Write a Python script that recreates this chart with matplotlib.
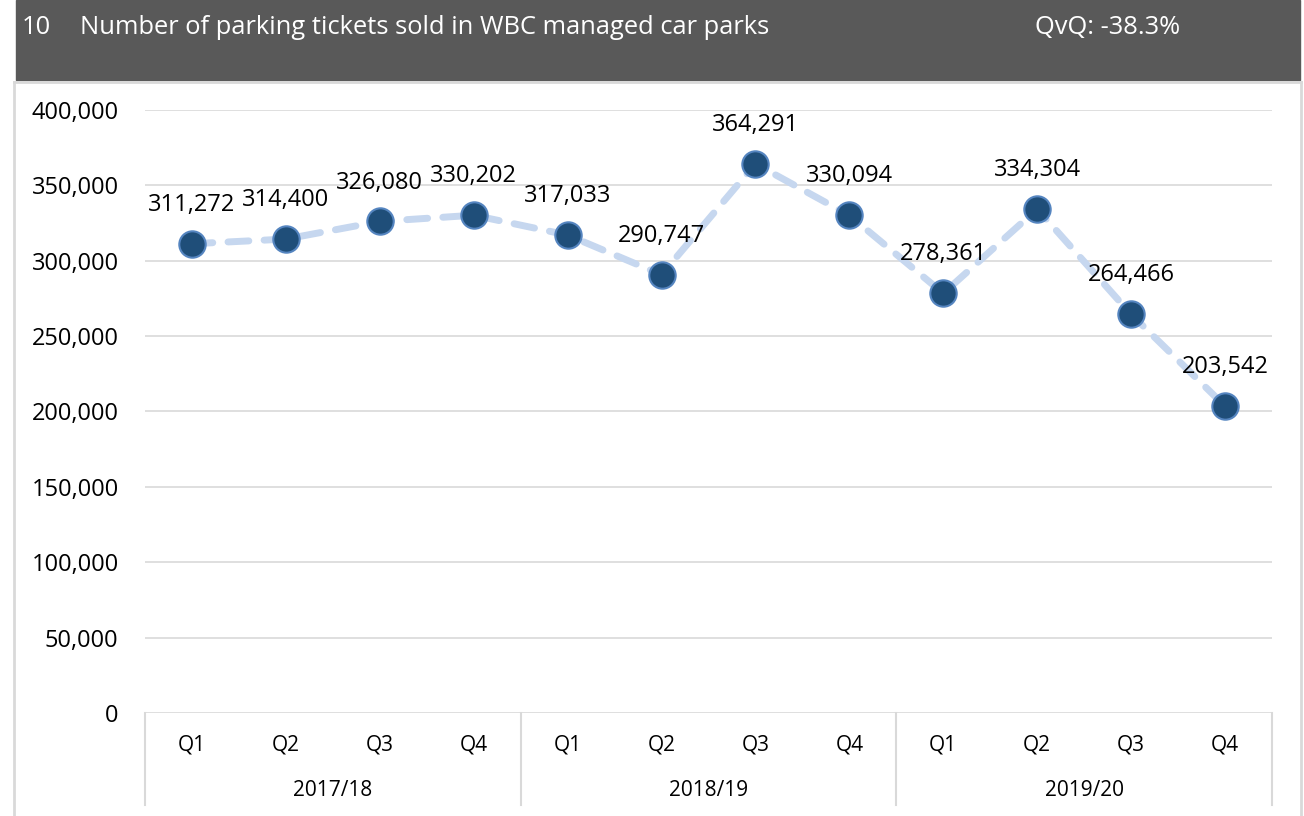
import matplotlib
matplotlib.use("Agg")
import matplotlib.pyplot as plt
from matplotlib.patches import Rectangle
from matplotlib.lines import Line2D

quarters = ["Q1", "Q2", "Q3", "Q4"] * 3
years = ["2017/18", "2018/19", "2019/20"]
tickets = [311272, 314400, 326080, 330202, 317033, 290747,
           364291, 330094, 278361, 334304, 264466, 203542]
title = "Number of parking tickets sold in WBC managed car parks"
chart_no = "10"
change = "QvQ: -38.3%"

W, H = 1304, 816
plt.rcParams['font.family'] = ['Open Sans', 'DejaVu Sans']
fig = plt.figure(figsize=(W / 100, H / 100), dpi=100)


def fx(px):
    return px / W


def fy(py):
    return 1 - py / H


# header band
fig.patches.append(Rectangle((fx(16), fy(80)), fx(1284), 80 / H,
                             transform=fig.transFigure, color="#595959", zorder=0))
# outer frame
for xs, ys in [([14, 14], [82, 816]), ([1301, 1301], [82, 816]), ([14, 1301], [82, 82])]:
    fig.lines.append(Line2D([fx(x) for x in xs], [fy(y) for y in ys],
                            transform=fig.transFigure, color="#d9d9d9", lw=2))

hdr = dict(color="white", fontsize=18.4, va="center")
fig.text(fx(22), fy(28), chart_no, **hdr)
fig.text(fx(80), fy(28), title, **hdr)
fig.text(fx(1035), fy(28), change, **hdr)

# plot area
x0, x1, ytop, ybot = 145, 1272, 110, 713
ax = fig.add_axes([fx(x0), fy(ybot), fx(x1 - x0), (ybot - ytop) / H])
n = len(tickets)
xs = list(range(n))
ax.set_xlim(-0.5, n - 0.5)
ax.set_ylim(0, 400000)
for s in ax.spines.values():
    s.set_visible(False)
ax.set_yticks(range(0, 400001, 50000))
ax.set_yticklabels([f"{v:,}" for v in range(0, 400001, 50000)], fontsize=17)
ax.tick_params(axis="y", length=0, pad=19)
ax.set_xticks([])
for v in range(0, 400001, 50000):
    ax.axhline(v, color="#d9d9d9", lw=1.2, zorder=0)

ax.plot(xs, tickets, color="#c6d7ef", lw=5, dashes=(3, 2.2),
        dash_capstyle="round", zorder=2)
ax.plot(xs, tickets, ls="none", marker="o", ms=19, mfc="#1f4e79",
        mec="#5585c0", mew=1.5, zorder=3)
for x, v in zip(xs, tickets):
    ax.annotate(f"{v:,}", (x, v), xytext=(0, 28), textcoords="offset points",
                ha="center", va="center", fontsize=17)

# category axis (multi-level)
for i, q in enumerate(quarters):
    ax.text(i, -0.053, q, transform=ax.get_xaxis_transform(), ha="center",
            va="center", fontsize=15)
for j, yr in enumerate(years):
    ax.text(4 * j + 1.5, -0.128, yr, transform=ax.get_xaxis_transform(),
            ha="center", va="center", fontsize=15)
for k in range(4):
    ax.plot([4 * k - 0.5] * 2, [0, -0.152], transform=ax.get_xaxis_transform(),
            color="#d9d9d9", lw=1.5, clip_on=False)

fig.savefig("out.png", dpi=100, facecolor="white")
